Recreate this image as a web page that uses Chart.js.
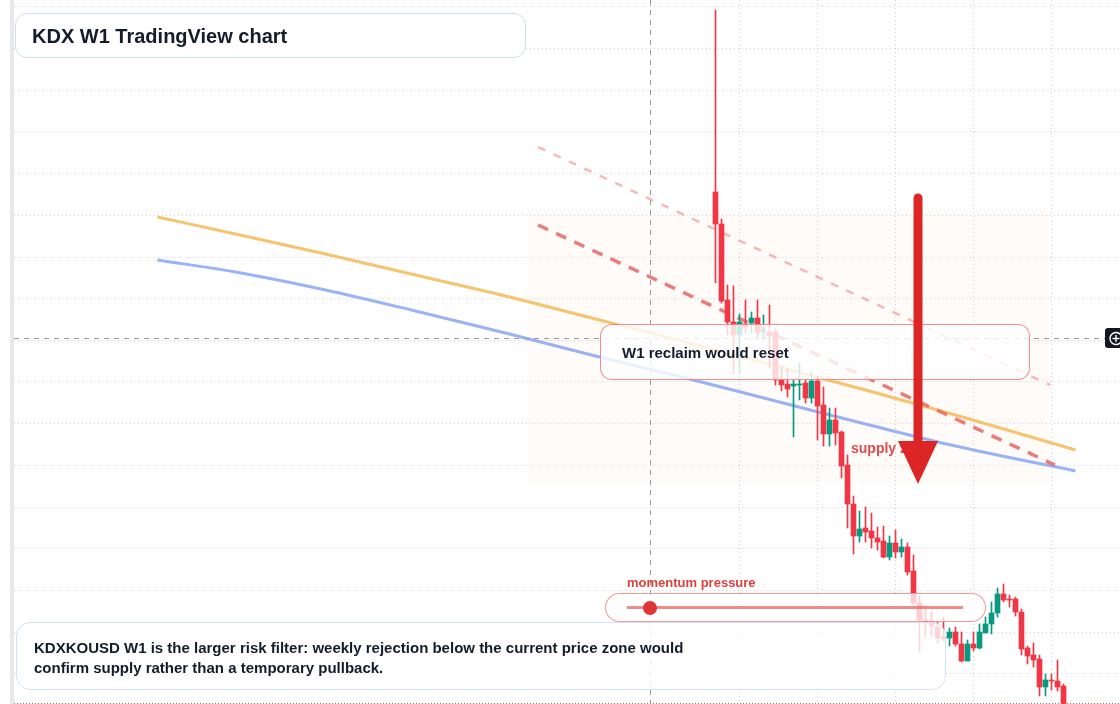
<!DOCTYPE html>
<html><head><meta charset="utf-8">
<script src="https://cdn.jsdelivr.net/npm/chart.js@4.4.1/dist/chart.umd.min.js"></script>
<style>
html,body{margin:0;padding:0;background:#fff;}
#wrap{position:relative;width:1120px;height:704px;overflow:hidden;font-family:"Liberation Sans",Arial,sans-serif;background:#fff;}
#c{position:absolute;left:0;top:0;}
.strip{position:absolute;left:10px;top:0;width:4px;height:704px;background:#e8e8e8;}
.bottomline{position:absolute;left:14px;top:703px;width:1106px;height:1px;background:repeating-linear-gradient(to right,#e4545c 0 1px,transparent 1px 3px);}
.box{position:absolute;box-sizing:border-box;}
#title{left:15px;top:13px;width:511px;height:45px;border:1px solid #cfdef6;border-radius:12px;background:rgba(255,255,255,0.92);font-weight:bold;font-size:20px;color:#141c2b;padding-left:16px;line-height:45px;}
#w1{left:600px;top:324px;width:430px;height:56px;border:1.5px solid rgba(236,105,105,0.75);border-radius:12px;background:rgba(255,255,255,0.8);font-weight:bold;font-size:15px;color:#141c2b;padding-left:21px;line-height:55px;}
#note{left:16px;top:622px;width:930px;height:68px;border:1.5px solid #d4e2f8;border-radius:14px;background:rgba(255,255,255,0.8);font-weight:bold;font-size:15px;color:#141c2b;padding:15px 0 0 17px;line-height:20px;}
#mom{left:605px;top:593px;width:381px;height:29px;border:1.5px solid rgba(236,110,110,0.7);border-radius:15px;background:rgba(255,255,255,0.75);}
#momline{position:absolute;left:627px;top:606px;width:336px;height:3px;background:rgba(232,100,100,0.75);}
#momdot{position:absolute;left:643px;top:601px;width:14px;height:14px;border-radius:50%;background:#e03535;}
#momlabel{position:absolute;left:627px;top:575px;font-weight:bold;font-size:13px;color:#e03e3e;line-height:16px;}
#supply{position:absolute;left:851px;top:439px;font-weight:bold;font-size:14px;color:rgba(222,60,60,0.92);line-height:18px;}
svg.top{position:absolute;left:0;top:0;}
</style></head>
<body>
<div id="wrap">
<canvas id="c" width="1120" height="704"></canvas>
<div class="strip"></div>
<div class="bottomline"></div>
<div class="box" id="title">KDX W1 TradingView chart</div>
<div class="box" id="w1">W1 reclaim would reset</div>
<div class="box" id="note">KDXKOUSD W1 is the larger risk filter: weekly rejection below the current price zone would<br>confirm supply rather than a temporary pullback.</div>
<div id="momlabel">momentum pressure</div>
<div class="box" id="mom"></div>
<div id="momline"></div>
<div id="momdot"></div>
<div id="supply">supply zone</div>
<svg class="top" width="1120" height="704">
  <line x1="918" y1="198" x2="918" y2="446" stroke="#dc2626" stroke-width="9" stroke-linecap="round"/>
  <polygon points="898,441 938,441 918,484" fill="#dc2626"/>
  <rect x="1105" y="328" width="24" height="20" rx="3" fill="#131722"/>
  <circle cx="1116" cy="338.5" r="6" fill="none" stroke="#fff" stroke-width="1.4"/>
  <line x1="1112.5" y1="338.5" x2="1119.5" y2="338.5" stroke="#fff" stroke-width="1.4"/>
  <line x1="1116" y1="335" x2="1116" y2="342" stroke="#fff" stroke-width="1.4"/>
</svg>
</div>
<script>
// Weekly KDX candles (price)
const open = [0.0712,0.0680,0.0604,0.0582,0.0569,0.0580,0.0581,0.0586,0.0572,0.0572,
0.0572,0.0524,0.0520,0.0518,0.0519,0.0521,0.0506,0.0523,0.0499,0.0470,
0.0484,0.0472,0.0439,0.0400,0.0368,0.0376,0.0373,0.0366,0.0363,0.0347,
0.0361,0.0352,0.0357,0.0333,0.0301,0.0284,0.0283,0.0277,0.0267,0.0266,
0.0272,0.0260,0.0243,0.0260,0.0256,0.0271,0.0280,0.0291,0.0310,0.0305,
0.0305,0.0292,0.0256,0.0249,0.0245,0.0217,0.0224,0.0223,0.0218];
const high = [0.0894,0.0685,0.0619,0.0618,0.0590,0.0604,0.0592,0.0604,0.0589,0.0599,
0.0575,0.0538,0.0536,0.0524,0.0541,0.0524,0.0532,0.0528,0.0517,0.0496,
0.0496,0.0473,0.0449,0.0408,0.0393,0.0397,0.0391,0.0377,0.0378,0.0368,
0.0374,0.0365,0.0361,0.0349,0.0308,0.0299,0.0292,0.0282,0.0287,0.0276,
0.0277,0.0272,0.0264,0.0272,0.0280,0.0287,0.0302,0.0316,0.0320,0.0309,
0.0307,0.0295,0.0258,0.0261,0.0249,0.0230,0.0230,0.0244,0.0220];
const low = [0.0621,0.0601,0.0569,0.0530,0.0530,0.0571,0.0571,0.0566,0.0564,0.0536,
0.0519,0.0513,0.0507,0.0467,0.0504,0.0501,0.0501,0.0464,0.0458,0.0458,
0.0459,0.0426,0.0376,0.0350,0.0362,0.0362,0.0356,0.0354,0.0346,0.0344,
0.0346,0.0347,0.0329,0.0299,0.0252,0.0267,0.0268,0.0261,0.0263,0.0258,
0.0258,0.0242,0.0243,0.0253,0.0255,0.0271,0.0270,0.0287,0.0302,0.0297,
0.0288,0.0249,0.0240,0.0237,0.0208,0.0208,0.0214,0.0213,0.0189];
const close = [0.0680,0.0603,0.0582,0.0569,0.0582,0.0577,0.0586,0.0571,0.0573,0.0568,
0.0524,0.0519,0.0515,0.0520,0.0520,0.0506,0.0523,0.0498,0.0470,0.0484,
0.0471,0.0438,0.0400,0.0368,0.0375,0.0372,0.0366,0.0362,0.0347,0.0361,
0.0352,0.0357,0.0332,0.0301,0.0284,0.0281,0.0278,0.0266,0.0265,0.0272,
0.0260,0.0243,0.0260,0.0256,0.0272,0.0280,0.0291,0.0310,0.0304,0.0304,
0.0292,0.0255,0.0248,0.0244,0.0217,0.0224,0.0223,0.0217,0.0192];

// Moving averages (week index, value)
const maWeeks = [-93,-80,-65,-50,-35,-20,-5,10,25,40,60];
const maOrange = [0.0687,0.0670,0.0650,0.0629,0.0608,0.0585,0.0562,0.0538,0.0514,0.0489,0.0454];
const maBlue = [0.0644,0.0632,0.0614,0.0593,0.0571,0.0548,0.0526,0.0503,0.0480,0.0458,0.0433];

// Trend lines
const trendLightWeeks = [-29.58,55.75];
const trendLightValues = [0.0757,0.0519];
const trendStrongWeeks = [-29.58,56.58];
const trendStrongValues = [0.0679,0.0439];

// Supply zone, crosshair
const zoneWeeks = [-31.42,55.75];
const zoneValues = [0.0421,0.0691];
const crossWeek = -10.92;
const crossValue = 0.0566;

// Axis ticks (grid)
const xTicks = [4,17,30,43,56];
const yTicks = [0.0897,0.08553,0.08137,0.0772,0.07303,0.06887,0.0647,0.06053,0.05637,0.0522,0.04803,0.04387,0.0397,0.03553,0.03137,0.0272,0.02303];
const xRange = [-116.9167,67.4167];
const yRange = [0.0200,0.0904];

const UP = '#089981', DOWN = '#f23645';
const colors = open.map((o,i)=> close[i] >= o ? UP : DOWN);

const overlay = {
  id:'overlay',
  beforeDatasetsDraw(chart){
    const {ctx, scales:{x,y}} = chart;
    const x0 = x.getPixelForValue(zoneWeeks[0]), x1 = x.getPixelForValue(zoneWeeks[1]);
    const y0 = y.getPixelForValue(zoneValues[1]), y1 = y.getPixelForValue(zoneValues[0]);
    ctx.save();
    ctx.fillStyle = 'rgba(255,170,110,0.05)';
    ctx.fillRect(x0,y0,x1-x0,y1-y0);
    const cx = Math.round(x.getPixelForValue(crossWeek)) + 0.5;
    const cy = Math.round(y.getPixelForValue(crossValue)) + 0.5;
    ctx.strokeStyle = 'rgba(110,110,110,0.7)';
    ctx.lineWidth = 1;
    ctx.setLineDash([5,5]);
    ctx.beginPath();
    ctx.moveTo(cx, chart.chartArea.top); ctx.lineTo(cx, chart.chartArea.bottom);
    ctx.moveTo(chart.chartArea.left, cy); ctx.lineTo(1105, cy);
    ctx.stroke();
    ctx.restore();
  }
};

const pts = (xs, ys) => xs.map((v,i)=>({x:v, y:ys[i]}));

new Chart(document.getElementById('c'), {
  type:'bar',
  data:{
    datasets:[
      {type:'bar', label:'bodies', data: open.map((o,i)=>({x:i, y:[o, close[i]]})), backgroundColor: colors, barThickness:5, grouped:false, borderWidth:0, borderSkipped:false, order:0},
      {type:'bar', label:'wicks', data: low.map((l,i)=>({x:i, y:[l, high[i]]})), backgroundColor: colors, barThickness:1, grouped:false, borderWidth:0, borderSkipped:false, order:1},
      {type:'line', label:'trend light', data: pts(trendLightWeeks, trendLightValues), borderColor:'rgba(240,140,140,0.6)', borderWidth:2.5, borderDash:[8,9], pointRadius:0, order:2},
      {type:'line', label:'trend strong', data: pts(trendStrongWeeks, trendStrongValues), borderColor:'rgba(232,96,96,0.82)', borderWidth:3.5, borderDash:[11,9], pointRadius:0, order:3},
      {type:'line', label:'MA fast', data: pts(maWeeks, maOrange), borderColor:'rgba(246,184,86,0.85)', borderWidth:3, pointRadius:0, cubicInterpolationMode:'monotone', order:4},
      {type:'line', label:'MA slow', data: pts(maWeeks, maBlue), borderColor:'rgba(128,160,245,0.8)', borderWidth:3, pointRadius:0, cubicInterpolationMode:'monotone', order:5}
    ]
  },
  options:{
    responsive:false, animation:false, devicePixelRatio:1,
    layout:{padding:{left:14,right:0,top:0,bottom:0}},
    plugins:{legend:{display:false}, tooltip:{enabled:false}},
    scales:{
      x:{type:'linear', min:xRange[0], max:xRange[1], offset:false,
         ticks:{display:false}, grid:{offset:false, drawTicks:false, color:'#cfd3d8', lineWidth:1},
         border:{display:false, dash:[1,3]},
         afterBuildTicks(s){ s.ticks = xTicks.map(v=>({value:v})); }},
      y:{type:'linear', min:yRange[0], max:yRange[1],
         ticks:{display:false}, grid:{drawTicks:false, color:'#cfd3d8', lineWidth:1},
         border:{display:false, dash:[1,3]},
         afterBuildTicks(s){ s.ticks = yTicks.map(v=>({value:v})); }}
    }
  },
  plugins:[overlay]
});
</script>
</body></html>
